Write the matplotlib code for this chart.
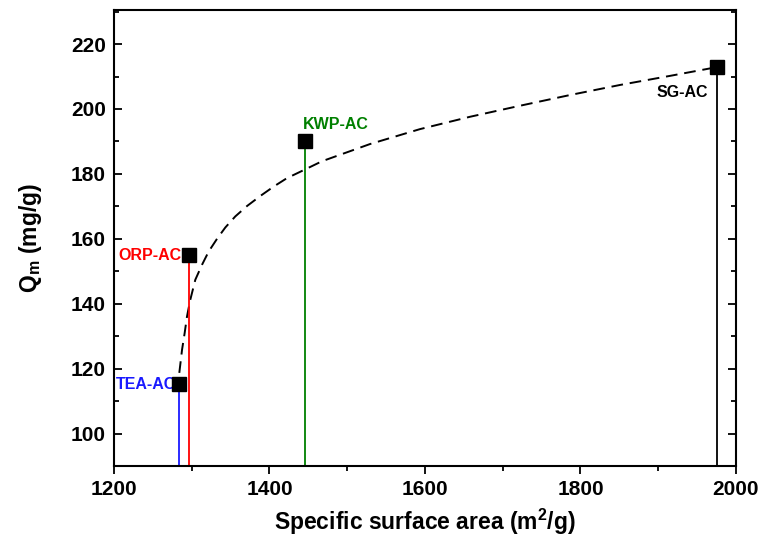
import matplotlib
matplotlib.use('Agg')
from matplotlib import pyplot as plt
from matplotlib.ticker import MultipleLocator

plt.rcParams['font.family'] = ['Liberation Sans', 'DejaVu Sans']
plt.rcParams['font.weight'] = 'bold'
plt.rcParams['mathtext.fontset'] = 'custom'
plt.rcParams['mathtext.rm'] = 'Liberation Sans:bold'
plt.rcParams['mathtext.it'] = 'Liberation Sans:bold'
plt.rcParams['mathtext.bf'] = 'Liberation Sans:bold'

# samples
names = ['TEA-AC', 'ORP-AC', 'KWP-AC', 'SG-AC']
area = [1284, 1297, 1446, 1976]
qm = [115.2, 155.0, 190.0, 213.0]
colors = ['#1a1aff', '#ff0000', '#008000', '#000000']

# dashed trend curve
curve_x = [1284.0, 1287.5, 1290.9, 1293.9, 1298.1, 1304.6, 1313.2, 1321.8,
           1332.5, 1343.2, 1356.0, 1371.1, 1388.2, 1405.4, 1422.5, 1446.0,
           1467.5, 1529.3, 1593.6, 1657.9, 1722.2, 1786.5, 1850.8, 1915.1,
           1966.6, 1976.0]
curve_y = [118.7, 125.8, 131.0, 136.1, 141.2, 147.4, 152.0, 156.1,
           160.0, 163.5, 166.9, 170.1, 173.2, 176.1, 178.7, 181.4,
           183.9, 189.2, 193.8, 197.6, 201.0, 204.3, 207.4, 210.2,
           212.5, 213.0]

fig = plt.figure(figsize=(7.6, 5.4), dpi=100)
ax = fig.add_axes([0.15, 0.137, 0.8184, 0.8445])

ymin = 90
ax.plot(curve_x, curve_y, color='black', lw=1.4, linestyle=(0, (6, 3.5)))
for x, y, c in zip(area, qm, colors):
    ax.vlines(x, ymin, y, color=c, lw=1.3)
ax.plot(area, qm, 's', color='black', markersize=9.5, zorder=5)

# labels
fs = 11.5
ax.text(area[0] - 4, qm[0], names[0], color=colors[0], fontsize=fs,
        fontweight='bold', ha='right', va='center')
ax.text(area[1] - 10, qm[1], names[1], color=colors[1], fontsize=fs,
        fontweight='bold', ha='right', va='center')
ax.text(area[2] - 3, qm[2] + 5.2, names[2], color=colors[2], fontsize=fs,
        fontweight='bold', ha='left', va='center')
ax.text(area[3] - 45, qm[3] - 8, names[3], color=colors[3], fontsize=fs,
        fontweight='bold', ha='center', va='center')

ax.set_xlim(1200, 2000)
ax.set_ylim(ymin, 230.5)
ax.xaxis.set_major_locator(MultipleLocator(200))
ax.xaxis.set_minor_locator(MultipleLocator(100))
ax.yaxis.set_major_locator(MultipleLocator(20))
ax.yaxis.set_minor_locator(MultipleLocator(10))

for s in ax.spines.values():
    s.set_linewidth(1.5)
ax.tick_params(axis='x', which='both', direction='out', width=1.3,
               labelsize=15, pad=4)
ax.tick_params(axis='x', which='major', length=6)
ax.tick_params(axis='x', which='minor', length=3.5)
ax.tick_params(axis='y', which='both', direction='in', right=True,
               width=1.3, labelsize=15, pad=6)
ax.tick_params(axis='y', which='major', length=6)
ax.tick_params(axis='y', which='minor', length=3.5)
for lab in ax.get_xticklabels() + ax.get_yticklabels():
    lab.set_fontweight('bold')

ax.set_xlabel('Specific surface area (m$^{2}$/g)', fontsize=16.5,
              fontweight='bold', labelpad=6)
ax.set_ylabel('Q$_{m}$ (mg/g)', fontsize=16.5, fontweight='bold',
              labelpad=19)

fig.savefig('out.png', dpi=100)
